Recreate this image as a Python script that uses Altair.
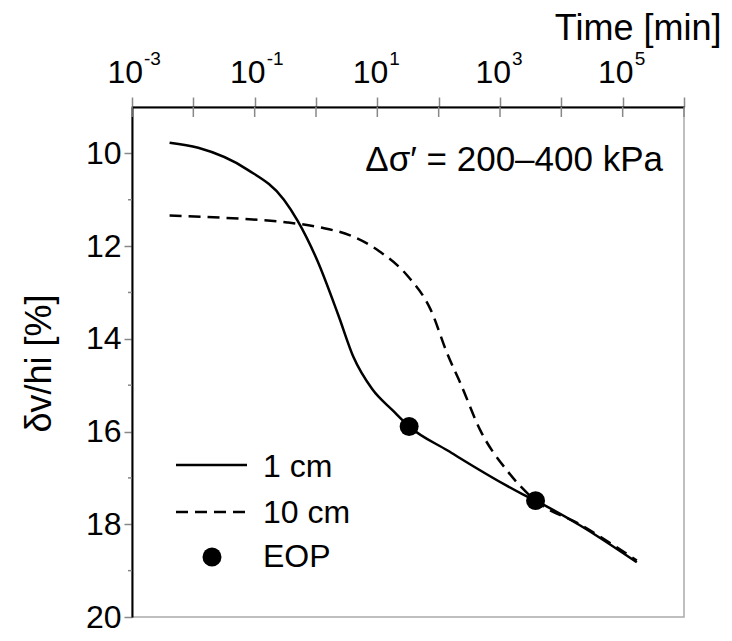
import altair as alt
import pandas as pd

FONT = "Liberation Sans"

# ---- data ----
t_1cm = [0.0041, 0.012, 0.076, 0.30, 0.50, 1.05, 2.3, 4.1, 8.3, 18, 33, 140, 2400, 3800, 20000, 170000]
d_1cm = [9.77, 9.88, 10.35, 11.0, 11.45, 12.31, 13.48, 14.40, 15.09, 15.55, 15.89, 16.41, 17.36, 17.49, 18.02, 18.82]

t_10cm = [0.0041, 0.059, 0.34, 1.2, 3.6, 11, 31, 74, 140, 230, 480, 1300, 3800, 20000, 170000]
d_10cm = [11.34, 11.41, 11.49, 11.60, 11.77, 12.12, 12.64, 13.37, 14.34, 14.98, 15.98, 16.84, 17.49, 18.0, 18.78]

t_eop = [33, 3800]
d_eop = [15.89, 17.49]

series_names = ["1 cm", "10 cm", "EOP"]

x_decades = [1e-3, 1e-2, 1e-1, 1e0, 1e1, 1e2, 1e3, 1e4, 1e5, 1e6]
x_label_vals = [1e-3, 1e-1, 1e1, 1e3, 1e5]
x_label_exps = ["-3", "-1", "1", "3", "5"]
y_major = [10, 12, 14, 16, 18, 20]
y_minor = [11, 13, 15, 17, 19]

annotation = "Δσ′ = 200–400 kPa"

# ---- tables ----
df1 = pd.DataFrame({"t": t_1cm, "d": d_1cm})
df10 = pd.DataFrame({"t": t_10cm, "d": d_10cm})
dfe = pd.DataFrame({"t": t_eop, "d": d_eop})
dfdec = pd.DataFrame({"t": x_decades})
dflab = pd.DataFrame({"t": x_label_vals, "exp": x_label_exps, "base": ["10"] * len(x_label_vals)})
dfminor = pd.DataFrame({"v": y_minor})

xs = alt.Scale(type="log", domain=[1e-3, 1e6], nice=False)
ys = alt.Scale(domain=[9, 20], reverse=True, nice=False, zero=False)

x_axis = alt.Axis(
    orient="top", values=x_decades, labels=False, tickSize=10, tickColor="#888888",
    tickWidth=1.5, domainColor="black", domainWidth=2, grid=False,
    title="Time [min]", titleFont=FONT, titleFontSize=36, titleFontWeight="normal",
    titleColor="black", titleX=589, titleY=-68, titleAlign="right",
    titleBaseline="alphabetic",
)
y_axis = alt.Axis(
    values=y_major, tickSize=8, tickColor="#888888", tickWidth=1.5,
    domainColor="black", domainWidth=2, grid=False,
    labelFont=FONT, labelFontSize=32, labelColor="black", labelPadding=3,
    title="δv/hi [%]", titleFont=FONT, titleFontSize=36, titleFontWeight="normal",
    titleColor="black", titleX=-93, titleY=256, titleAlign="center",
    titleBaseline="middle", titleAngle=270,
)

X = alt.X("t:Q", scale=xs, axis=x_axis)
Y = alt.Y("d:Q", scale=ys, axis=y_axis)

line1 = alt.Chart(df1).mark_line(color="black", strokeWidth=2.5, interpolate="monotone").encode(x=X, y=Y)
line10 = alt.Chart(df10).mark_line(color="black", strokeWidth=2.5, strokeDash=[12, 7],
                                   interpolate="monotone").encode(x=X, y=Y)
eop = alt.Chart(dfe).mark_point(filled=True, color="black", size=360, opacity=1).encode(x=X, y=Y)

# ticks crossing inside the top axis
inner_ticks = alt.Chart(dfdec).mark_rule(color="#888888", strokeWidth=1.5).encode(
    x=alt.X("t:Q", scale=xs), y=alt.value(0), y2=alt.value(10))
# minor y ticks
minor_ticks = alt.Chart(dfminor).mark_rule(color="#888888", strokeWidth=1.5).encode(
    y=alt.Y("v:Q", scale=ys), x=alt.value(-4), x2=alt.value(0))

# x tick labels with superscript exponents
lab_base = alt.Chart(dflab).mark_text(font=FONT, fontSize=32, align="right",
                                      baseline="alphabetic", dx=11, color="black").encode(
    x=alt.X("t:Q", scale=xs), y=alt.value(-24), text="base:N")
lab_exp = alt.Chart(dflab).mark_text(font=FONT, fontSize=19, align="left",
                                     baseline="alphabetic", dx=12, color="black").encode(
    x=alt.X("t:Q", scale=xs), y=alt.value(-42), text="exp:N")

ann = alt.Chart(pd.DataFrame({"txt": [annotation]})).mark_text(
    font=FONT, fontSize=35, align="right", baseline="alphabetic", color="black").encode(
    x=alt.value(531), y=alt.value(64), text="txt:N")

# manual legend
leg1_line = alt.Chart(pd.DataFrame({"n": [series_names[0]]})).mark_rule(color="black", strokeWidth=2.5).encode(
    x=alt.value(44), x2=alt.value(115), y=alt.value(358))
leg2_line = alt.Chart(pd.DataFrame({"n": [series_names[1]]})).mark_rule(
    color="black", strokeWidth=2.5, strokeDash=[12, 7]).encode(
    x=alt.value(44), x2=alt.value(115), y=alt.value(405))
leg3_dot = alt.Chart(pd.DataFrame({"n": [series_names[2]]})).mark_point(
    filled=True, color="black", size=360, opacity=1).encode(x=alt.value(80), y=alt.value(450))
leg_text = []
for name, yy in zip(series_names, [360, 406, 450]):
    leg_text.append(alt.Chart(pd.DataFrame({"n": [name]})).mark_text(
        font=FONT, fontSize=32, align="left", baseline="middle", color="black").encode(
        x=alt.value(131), y=alt.value(yy), text="n:N"))

chart = alt.layer(
    inner_ticks, minor_ticks, line10, line1, eop, lab_base, lab_exp, ann,
    leg1_line, leg2_line, leg3_dot, *leg_text
).properties(
    width=552, height=510,
    autosize=alt.AutoSizeParams(type="none"),
    padding={"left": 124, "top": 99, "right": 40, "bottom": 16},
).configure_view(stroke="#aaaaaa", strokeWidth=1.5)

chart.save("out.html", embed_options={"renderer": "svg", "actions": False})
